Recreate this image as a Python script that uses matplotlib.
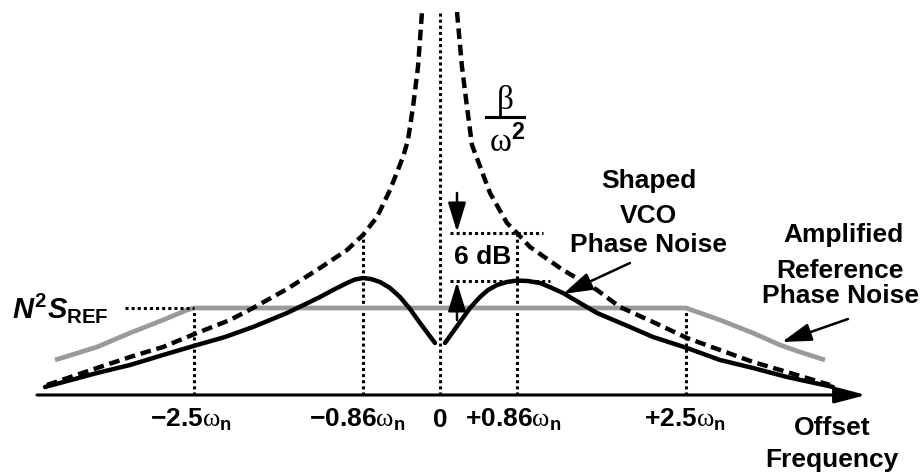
import matplotlib
matplotlib.use("Agg")
import matplotlib.pyplot as plt

# Шумовая диаграмма PLL: значения сняты с картинки в условных единицах
# (x: 0 = несущая, y: 0 = ось частот)

plt.rcParams["mathtext.fontset"] = "custom"
plt.rcParams["mathtext.rm"] = "Liberation Serif"
plt.rcParams["mathtext.it"] = "Liberation Sans:italic:bold"
plt.rcParams["mathtext.bf"] = "Liberation Sans:bold"

# beta / w^2 - шум свободного ГУН (штрих)
vco_free_left_x = [-3.93, -3.43, -3.10, -2.77, -2.43, -2.10, -1.87, -1.53, -1.20, -0.93,
                   -0.77, -0.63, -0.50, -0.37, -0.32, -0.27, -0.22, -0.18]
vco_free_left_y = [0.10, 0.27, 0.38, 0.48, 0.62, 0.75, 0.87, 1.06, 1.27, 1.45,
                   1.60, 1.78, 2.05, 2.38, 2.55, 2.88, 3.28, 3.83]
vco_free_right_x = [0.17, 0.22, 0.27, 0.32, 0.50, 0.67, 0.77, 0.90, 1.23, 1.57,
                    1.80, 2.13, 2.47, 2.80, 3.13, 3.47, 3.90]
vco_free_right_y = [3.83, 3.28, 2.88, 2.50, 2.02, 1.72, 1.62, 1.48, 1.25, 1.05,
                    0.88, 0.73, 0.57, 0.45, 0.33, 0.23, 0.10]

# сформированный шум ГУН (сплошная)
vco_shaped_left_x = [-3.95, -3.43, -3.10, -2.77, -2.43, -2.15, -1.87, -1.53, -1.20, -1.05,
                     -0.93, -0.85, -0.77, -0.69, -0.60, -0.50, -0.40, -0.30, -0.20, -0.05]
vco_shaped_left_y = [0.08, 0.22, 0.30, 0.40, 0.50, 0.58, 0.68, 0.82, 0.98, 1.06,
                     1.12, 1.155, 1.17, 1.16, 1.13, 1.07, 0.98, 0.86, 0.72, 0.52]
vco_shaped_right_x = [0.05, 0.15, 0.30, 0.40, 0.48, 0.57, 0.67, 0.77, 0.88, 1.00,
                      1.12, 1.23, 1.57, 1.90, 2.13, 2.47, 2.80, 3.13, 3.47, 3.93]
vco_shaped_right_y = [0.52, 0.66, 0.87, 0.98, 1.05, 1.10, 1.13, 1.145, 1.14, 1.12,
                      1.07, 1.02, 0.82, 0.68, 0.58, 0.47, 0.35, 0.27, 0.18, 0.08]

# усиленный шум опорника (серая)
ref_x = [-3.85, -3.43, -3.10, -2.77, -2.53, -2.46, 2.46, 2.80, 3.13, 3.40, 3.60, 3.85]
ref_y = [0.35, 0.48, 0.62, 0.75, 0.85, 0.87, 0.87, 0.75, 0.62, 0.50, 0.43, 0.35]

# вертикальные пунктиры: позиция и высота
marker_x = [-2.46, -0.77, 0.0, 0.77, 2.46]
marker_top = [0.87, 1.60, 3.83, 1.62, 0.87]

tick_x = [-2.49, -0.83, 0.0, 0.73, 2.45]
tick_labels = [r"$\mathbf{-2.5}\mathrm{\omega}_\mathbf{n}$",
               r"$\mathbf{-0.86}\mathrm{\omega}_\mathbf{n}$",
               r"$\mathbf{0}$",
               r"$\mathbf{+0.86}\mathrm{\omega}_\mathbf{n}$",
               r"$\mathbf{+2.5}\mathrm{\omega}_\mathbf{n}$"]

ref_level = 0.87
peak_level = 1.14
free_level = 1.62

fig = plt.figure(figsize=(9.22, 4.75), dpi=100)
ax = fig.add_axes([0, 0, 1, 1])
ax.set_xlim(-4.40, 4.82)
ax.set_ylim(-0.80, 3.95)
ax.axis("off")

dot = dict(color="black", lw=2.2, linestyle=(0, (1.0, 1.0)))
curve = dict(solid_joinstyle="round", solid_capstyle="round")

ax.plot(ref_x, ref_y, color="#9a9a9a", lw=3.4, solid_capstyle="butt", zorder=2)
ax.plot(vco_free_left_x, vco_free_left_y, color="black", lw=3.2, dashes=(2.4, 1.3), zorder=3)
ax.plot(vco_free_right_x, vco_free_right_y, color="black", lw=3.2, dashes=(2.4, 1.3), zorder=3)
ax.plot(vco_shaped_left_x, vco_shaped_left_y, color="black", lw=3.2, zorder=4, **curve)
ax.plot(vco_shaped_right_x, vco_shaped_right_y, color="black", lw=3.2, zorder=4, **curve)

for x, top in zip(marker_x, marker_top):
    ax.plot([x, x], [0, top], **dot, zorder=1)

ax.plot([-3.15, -2.46], [ref_level, ref_level], **dot)
ax.plot([0.10, 1.03], [free_level, free_level], **dot)
ax.plot([0.10, 1.10], [peak_level, peak_level], **dot)

# ось частот со стрелкой
ax.annotate("", xy=(4.26, 0), xytext=(-4.03, 0),
            arrowprops=dict(arrowstyle="-|>,head_length=1.9,head_width=0.5",
                            color="black", lw=2.2, shrinkA=0, shrinkB=0))

arrow_kw = dict(arrowstyle="-|>,head_length=1.8,head_width=0.55",
                color="black", lw=1.8, shrinkA=0, shrinkB=0)
ax.annotate("", xy=(0.17, 1.63), xytext=(0.17, 2.02), arrowprops=arrow_kw)
ax.annotate("", xy=(0.17, 1.13), xytext=(0.17, 0.75), arrowprops=arrow_kw)
ax.annotate("", xy=(1.23, 1.01), xytext=(1.90, 1.32), arrowprops=arrow_kw)
ax.annotate("", xy=(3.42, 0.53), xytext=(4.08, 0.76), arrowprops=arrow_kw)

bold = dict(fontfamily="Liberation Sans", fontweight="bold", fontsize=19)

ax.text(0.43, 1.38, "6 dB", ha="center", va="center", **bold)

ax.text(2.09, 2.07, "Shaped", ha="center", va="baseline", **bold)
ax.text(2.08, 1.72, "VCO", ha="center", va="baseline", **bold)
ax.text(2.08, 1.43, "Phase Noise", ha="center", va="baseline", **bold)

ax.text(4.03, 1.53, "Amplified", ha="center", va="baseline", **bold)
ax.text(4.00, 1.17, "Reference", ha="center", va="baseline", **bold)
ax.text(4.01, 0.92, "Phase Noise", ha="center", va="baseline", **bold)

ax.text(3.92, -0.40, "Offset", ha="center", va="baseline", **bold)
ax.text(3.92, -0.72, "Frequency", ha="center", va="baseline", **bold)

for x, lab in zip(tick_x, tick_labels):
    ax.text(x, -0.32, lab, ha="center", va="baseline", fontsize=19)

ax.text(-4.28, 0.77, r"$N^{\mathbf{2}}S_{\mathbf{REF}}$", ha="left", va="baseline", fontsize=21)

# beta / omega^2
ax.text(0.645, 2.94, r"$\mathrm{\beta}$", ha="center", va="center", fontsize=24)
ax.plot([0.46, 0.84], [2.78, 2.78], color="black", lw=2.2)
ax.text(0.67, 2.53, r"$\mathrm{\omega}^\mathbf{2}$", ha="center", va="center", fontsize=24)

fig.savefig("out.png", dpi=100)
